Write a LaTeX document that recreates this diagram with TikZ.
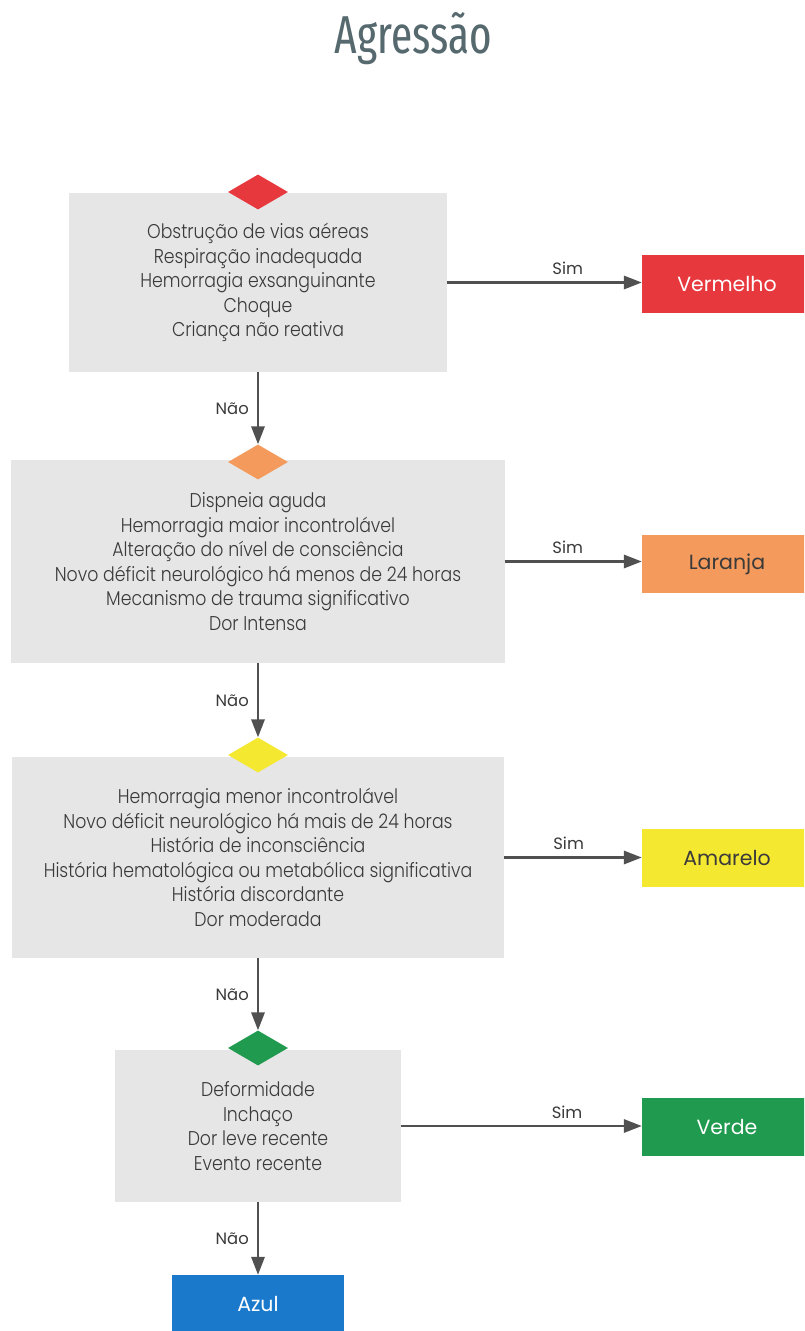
\documentclass[tikz,border=0pt]{standalone}
\usepackage{fontspec}
\IfFontExistsTF{Poppins Light}{\setmainfont{Poppins Light}[FakeStretch=0.87]}{\setmainfont{Poppins}[FakeStretch=0.87]}
\newfontfamily\regfont{Poppins}
\IfFontExistsTF{Fira Sans Extra Condensed}{\newfontfamily\titlefont{Fira Sans Extra Condensed}}{%
  \IfFontExistsTF{Fira Sans Condensed}{\newfontfamily\titlefont{Fira Sans Condensed}}{%
    \newfontfamily\titlefont{Liberation Sans}[FakeStretch=0.64]}}
\usetikzlibrary{shapes.geometric,arrows.meta}
\definecolor{boxgray}{HTML}{E6E6E6}
\definecolor{txt}{HTML}{3A3A3A}
\definecolor{arrgray}{HTML}{505050}
\definecolor{titlecol}{HTML}{56696E}
\definecolor{cred}{HTML}{E7383E}
\definecolor{corange}{HTML}{F39A5C}
\definecolor{cyellow}{HTML}{F5E830}
\definecolor{cgreen}{HTML}{1F9A4E}
\definecolor{cblue}{HTML}{1B79CC}
\tikzset{
  graybox/.style={rectangle, fill=boxgray, inner sep=0pt, align=center, text=txt,
    font=\fontsize{17}{20.9}\selectfont},
  dia/.style={diamond, minimum width=1.8cm, minimum height=1.05cm, inner sep=0pt},
  catbox/.style={rectangle, minimum width=5.1cm, minimum height=1.74cm, inner sep=0pt,
    font=\regfont\fontsize{17.5}{20}\selectfont},
  arr/.style={draw=arrgray, line width=2pt, -{Triangle[length=0.54cm,width=0.4cm]}},
  lbl/.style={font=\regfont\fontsize{14}{15}\selectfont, text=txt, inner sep=0pt},
}
\begin{document}
\begin{tikzpicture}[x=0.03cm,y=-0.03cm]
\useasboundingbox (0,0) rectangle (804,1331);
\clip (0,0) rectangle (804,1331);
\fill[white] (0,0) rectangle (804,1331);

% title
\node[text=titlecol, inner sep=0pt, anchor=base] (title) at (413,53) {\resizebox{4.71cm}{1.23cm}{\titlefont Agressão}};

% gray boxes
\node[graybox, minimum width=11.31cm, minimum height=5.37cm] (b1) at (258,282.5)
  {Obstrução de vias aéreas\\Respiração inadequada\\Hemorragia exsanguinante\\Choque\\Criança não reativa};
\node[graybox, minimum width=14.79cm, minimum height=6.09cm] (b2) at (258,561.5)
  {Dispneia aguda\\Hemorragia maior incontrolável\\Alteração do nível de consciência\\Novo déficit neurológico há menos de 24 horas\\Mecanismo de trauma significativo\\Dor Intensa};
\node[graybox, minimum width=14.73cm, minimum height=6.03cm] (b3) at (258,857.5)
  {Hemorragia menor incontrolável\\Novo déficit neurológico há mais de 24 horas\\História de inconsciência\\História hematológica ou metabólica significativa\\História discordante\\Dor moderada};
\node[graybox, minimum width=8.55cm, minimum height=4.56cm] (b4) at (258,1126)
  {Deformidade\\Inchaço\\Dor leve recente\\Evento recente};

% diamonds
\node[dia, fill=cred] (d1) at (258,192) {};
\node[dia, fill=corange] (d2) at (258,462) {};
\node[dia, fill=cyellow] (d3) at (258,755) {};
\node[dia, fill=cgreen] (d4) at (258,1048) {};

% category boxes
\node[catbox, fill=cred, text=white] (vermelho) at (727,284) {Vermelho};
\node[catbox, fill=corange, text=txt] (laranja) at (727,564) {Laranja};
\node[catbox, fill=cyellow, text=txt] (amarelo) at (727,858) {Amarelo};
\node[catbox, fill=cgreen, text=white] (verde) at (727,1127) {Verde};
\node[catbox, fill=cblue, text=white, minimum width=5.13cm] (azul) at (258,1304) {Azul};

% Sim arrows
\draw[arr] (b1.east) -- node[lbl, above=0.2cm, pos=0.62] {Sim} (b1.east -| vermelho.west);
\draw[arr] (b2.east) -- node[lbl, above=0.2cm, pos=0.46] {Sim} (b2.east -| laranja.west);
\draw[arr] (b3.east) -- node[lbl, above=0.2cm, pos=0.47] {Sim} (b3.east -| amarelo.west);
\draw[arr] (b4.east) -- node[lbl, above=0.2cm, pos=0.69] {Sim} (b4.east -| verde.west);

% Não arrows
\draw[arr] (b1.south) -- node[lbl, left=0.24cm] {Não} (d2.north);
\draw[arr] (b2.south) -- node[lbl, left=0.24cm] {Não} (d3.north);
\draw[arr] (b3.south) -- node[lbl, left=0.24cm] {Não} (d4.north);
\draw[arr] (b4.south) -- node[lbl, left=0.24cm] {Não} (azul.north);
\end{tikzpicture}
\end{document}
